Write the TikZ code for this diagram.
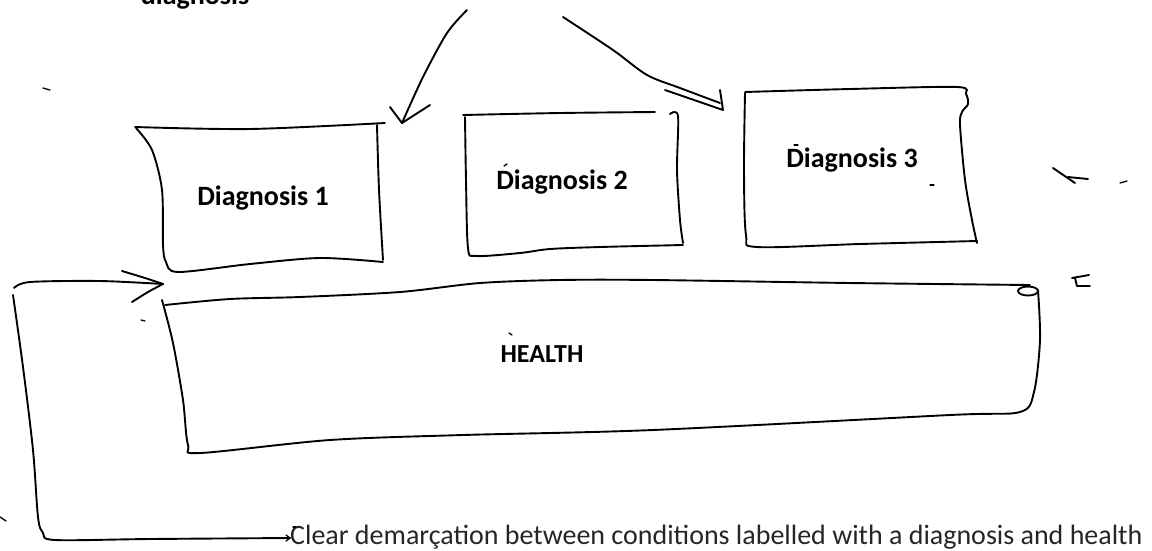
\documentclass[tikz,border=0pt]{standalone}
\usepackage{fontspec}
\setmainfont{Carlito}
\begin{document}
\begin{tikzpicture}[x=1pt,y=-1pt,
  pen/.style={line width=1.9pt, line cap=round, line join=round},
  fleck/.style={line width=1.3pt, line cap=round},
  boxlabel/.style={font=\bfseries\fontsize{28}{32}\selectfont, inner sep=0pt},
  notetext/.style={font=\fontsize{28}{32}\selectfont, inner sep=0pt, text=black!85}]
\useasboundingbox (0,0) rectangle (1152,550);
\clip (0,0) rectangle (1152,550);

% labels
\node[boxlabel, anchor=base] (topnote) at (195,4) {diagnosis};
\node[boxlabel] (d1) at (263,198) {Diagnosis 1};
\node[boxlabel] (d2) at (562,182) {Diagnosis 2};
\node[boxlabel] (d3) at (852,160) {Diagnosis 3};
\node[boxlabel, font=\bfseries\fontsize{26}{30}\selectfont] (health) at (542,354) {HEALTH};
\node[notetext, anchor=base west] (note) at (290,544) {Clear demarçation between conditions labelled with a diagnosis and health};
\coordinate (noteIn) at ([yshift=6]note.base west);

% Diagnosis 1 box
\draw[pen] plot[smooth, tension=0.5] coordinates {(135,127) (250,129) (385,123)};
\draw[pen] plot[smooth, tension=0.5] coordinates {(377,125) (379,190) (383,260)};
\draw[pen] plot[smooth, tension=0.5] coordinates {(136,128) (152,150) (162,190) (163,245) (166,262) (178,272) (250,264) (320,258) (383,262)};

% Diagnosis 2 box
\draw[pen] plot[smooth, tension=0.5] coordinates {(463,115) (560,113) (655,112)};
\draw[pen] plot[smooth, tension=0.5] coordinates {(670,114) (678,116) (677,170) (680,220) (683,243)};
\draw[pen] plot[smooth, tension=0.5] coordinates {(465,117) (466,180) (468,248) (476,256) (520,253) (550,249) (600,247) (683,245)};

% Diagnosis 3 box
\draw[pen] plot[smooth, tension=0.5] coordinates {(745,92) (850,89) (957,87) (966,94) (968,104) (962,112) (960,125) (965,180) (972,220) (977,243)};
\draw[pen] plot[smooth, tension=0.5] coordinates {(745,93) (744,170) (746,235) (757,247) (860,244) (977,241)};

% HEALTH box
\draw[pen] plot[smooth, tension=0.5] coordinates {(165,305) (230,299) (300,297) (400,292) (480,283) (560,280) (653,280) (850,283) (1030,285)};
\draw[pen] (1028,291) ellipse [x radius=10, y radius=4.5];
\draw[pen] plot[smooth, tension=0.5] coordinates {(162,300) (173,343) (183,400) (188,445) (200,453) (330,440) (463,435) (653,430) (950,415) (1020,412) (1034,392) (1040,340) (1038,290)};

% bracket from the note back to the HEALTH box
\coordinate (hTL) at (163,284);
\coordinate (bend) at (14,288);
\draw[pen] plot[smooth, tension=0.5] coordinates {(bend) (30,282) (100,281) (hTL)};
\draw[pen] plot[smooth, tension=0.5] coordinates {(122,271) (145,278) (hTL)};
\draw[pen] plot[smooth, tension=0.5] coordinates {(132,302) (148,292) (hTL)};
\draw[pen] plot[smooth, tension=0.5] coordinates {(13,295) (23,367) (33,450) (38,517) (43,533) (55,540) (150,539) (noteIn)};
\draw[fleck] ([xshift=-4,yshift=-3]noteIn) -- (noteIn) -- ([xshift=-4,yshift=3]noteIn);

% arrows coming from above
\coordinate (srcL) at (467,10);
\coordinate (tipL) at (402,123);
\draw[pen] plot[smooth, tension=0.5] coordinates {(srcL) (447,33) (423,77) (tipL)};
\draw[pen] (390,107) -- (tipL) -- (430,105);
\coordinate (srcR) at (563,17);
\coordinate (tipR) at (723,110);
\draw[pen] plot[smooth, tension=0.5] coordinates {(srcR) (613,50) (647,75) (680,88) (720,103)};
\draw[pen] (665,90) -- (tipR) -- (720,90);

% stray pen marks
\draw[fleck] (43,88) -- (50,90);
\draw[fleck] (0,517) -- (6,521);
\draw[fleck] (141,320) -- (145,321);
\draw[fleck] (509,333) -- (512,335);
\draw[fleck] (504,166) -- (507,164);
\draw[fleck] (794,145) -- (798,145);
\draw[fleck] (930,185) -- (934,185);
\draw[fleck] (293,527) -- (296,527);
\draw[pen] (1053,168) -- (1075,183);
\draw[pen] (1068,177) -- (1088,179);
\draw[fleck] (1120,183) -- (1127,181);
\draw[pen] (1072,278) -- (1089,275);
\draw[pen] (1075,278) -- (1077,286) -- (1090,286);
\end{tikzpicture}
\end{document}
